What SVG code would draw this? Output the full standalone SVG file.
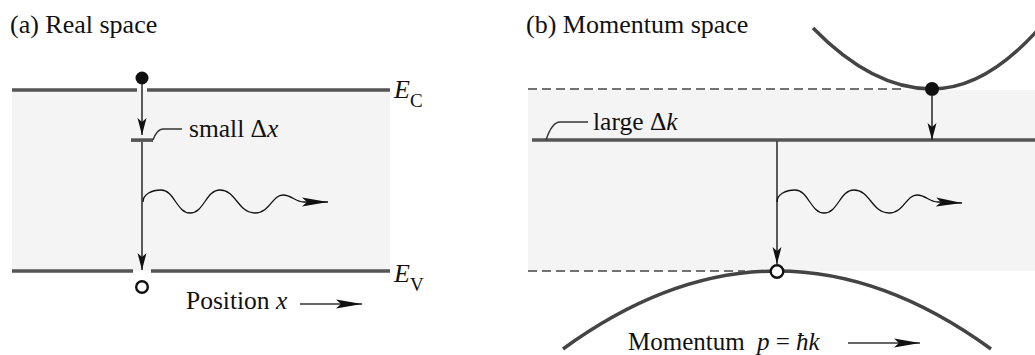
<svg xmlns="http://www.w3.org/2000/svg" width="1035" height="355" viewBox="0 0 1035 355">
<style>
  text { font-family: "Liberation Serif", "Times New Roman", serif; fill: #111; }
  .ttl { font-size: 26px; }
  .lbl { font-size: 25.5px; }
  .it { font-style: italic; }
  .band { stroke: #555; stroke-width: 3.5; fill: none; }
  .curve { stroke: #444; stroke-width: 3.5; fill: none; }
  .dash { stroke: #444; stroke-width: 1.5; stroke-dasharray: 9 5; fill: none; }
  .vline { stroke: #333; stroke-width: 1.6; fill: none; }
  .wave { stroke: #111; stroke-width: 1.3; fill: none; }
  .lead { stroke: #333; stroke-width: 1.4; fill: none; }
  .shade { fill: #f4f4f4; }
</style>
<defs>
  <marker id="ah" markerUnits="userSpaceOnUse" markerWidth="18" markerHeight="10" refX="17" refY="5" orient="auto">
    <path d="M0,0.5 L17,5 L0,9.5 L4,5 z" fill="#111"/>
  </marker>
  <marker id="ahl" markerUnits="userSpaceOnUse" markerWidth="27" markerHeight="10" refX="26" refY="5" orient="auto">
    <path d="M0,0.5 L26,5 L0,9.5 L5,5 z" fill="#111"/>
  </marker>
</defs>
<rect width="1035" height="355" fill="#fff"/>

<!-- Panel (a) -->
<g id="panel-a">
  <text id="title-a" class="ttl" x="10" y="33">(a) Real space</text>
  <rect id="gap-a" class="shade" x="12" y="90" width="378" height="181"/>
  <g id="band-EC">
    <path class="band" d="M12,90 H137 M147,90 H390"/>
    <text class="ttl it" x="394" y="98">E<tspan font-style="normal" font-size="19" dy="9">C</tspan></text>
  </g>
  <g id="band-EV">
    <path class="band" d="M12,271 H133 M151,271 H390"/>
    <text class="ttl it" x="394" y="282">E<tspan font-style="normal" font-size="19" dy="9">V</tspan></text>
  </g>
  <g id="electron-a"><circle cx="142" cy="78" r="6.5" fill="#111"/></g>
  <g id="dx-bar">
    <rect x="131" y="138.3" width="22" height="3.6" fill="#555"/>
    <path class="lead" d="M153,140 Q157,129 163,129 H182"/>
    <text class="lbl" x="189" y="137">small Δ<tspan class="it">x</tspan></text>
  </g>
  <g id="hole-a"><circle cx="142" cy="287" r="5.8" fill="#fff" stroke="#111" stroke-width="2.4"/></g>
  <g id="axis-a">
    <text class="lbl" x="186" y="309">Position <tspan class="it">x</tspan></text>
  </g>
</g>

<!-- Panel (b) -->
<g id="panel-b">
  <text id="title-b" class="ttl" x="526" y="33">(b) Momentum space</text>
  <rect id="gap-b" class="shade" x="528" y="90" width="507" height="181"/>
  <g id="conduction-band">
    <path class="dash" d="M528,89 H905"/>
    <path class="curve" d="M813,28 Q872.5,89 932,89 Q988.5,89 1045,21.6"/>
  </g>
  <g id="dk-line">
    <path class="band" d="M532,140 H1035"/>
    <path class="lead" d="M546,140 Q552,122 560,122 H588"/>
    <text class="lbl" x="593" y="130">large Δ<tspan class="it">k</tspan></text>
  </g>
  <g id="valence-band">
    <path class="dash" d="M528,271 H745"/>
    <path class="curve" d="M563,349 Q670,271 777,271 Q884,271 991,349"/>
  </g>
  <g id="electron-b"><circle cx="932" cy="89" r="7" fill="#111"/></g>
  <g id="hole-b"><circle cx="777" cy="271.5" r="6.3" fill="#fff" stroke="#111" stroke-width="2.4"/></g>
  <g id="axis-b">
    <text font-size="25" x="628" y="350">Momentum <tspan class="it" x="757">p</tspan> = <tspan class="it">ħk</tspan></text>
  </g>
</g>

<!-- Connectors -->
<g id="connectors">
  <path class="vline" d="M142,84 V135" marker-end="url(#ah)"/>
  <path class="vline" d="M142,142 V270" marker-end="url(#ah)"/>
  <path class="wave" d="M143,202 C143,194 152,190 161,190 C174,190 177,213 190,213 C204,213 206,190 220,190 C236,190 238,213 255,213 C270,213 272,195 283,195 C292,195 295,202 304,202 L328,202" marker-end="url(#ahl)"/>
  <path class="vline" d="M300,304 H362" marker-end="url(#ahl)"/>

  <path class="vline" d="M932,95 V140" marker-end="url(#ah)"/>
  <path class="vline" d="M777,141 V264" marker-end="url(#ah)"/>
  <path class="wave" d="M777,202 C777,194 786,190 795,190 C808,190 811,213 824,213 C838,213 840,190 854,190 C870,190 872,213 889,213 C904,213 906,195 917,195 C926,195 929,202 938,202 L962,203" marker-end="url(#ahl)"/>
  <path class="vline" d="M848,343 H920" marker-end="url(#ahl)"/>
</g>
</svg>
